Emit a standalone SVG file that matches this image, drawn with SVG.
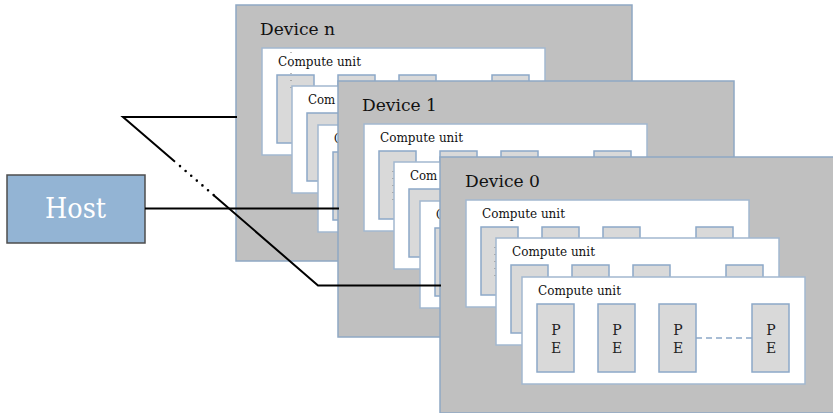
<svg xmlns="http://www.w3.org/2000/svg" width="833" height="413" viewBox="0 0 833 413">
  <style>
    text { font-family: 'DejaVu Serif', 'Liberation Serif', serif; }
    .dev { fill: #c0c0c0; stroke: #8fa8c4; stroke-width: 1.5; }
    .cu { fill: #ffffff; stroke: #a2b8d0; stroke-width: 1.5; }
    .pe { fill: #d9d9d9; stroke: #8ca8c8; stroke-width: 1.5; }
    .devlabel { font-size: 16.5px; fill: #111; }
    .culabel { font-size: 13px; fill: #111; }
    .pelabel { font-size: 14px; fill: #222; text-anchor: middle; }
    .seam { stroke: #7a7a7a; stroke-width: 1; stroke-dasharray: 1 6; fill: none; }
    .peline { stroke: #8ca8c8; stroke-width: 1.3; stroke-dasharray: 6 4; fill: none; }
    .wire { stroke: #000; stroke-width: 2; fill: none; }
    .dots { stroke: #000; stroke-width: 2.6; stroke-linecap: round; stroke-dasharray: 0 7.4; fill: none; }
    .host { fill: #93b4d4; stroke: #4d4d4d; stroke-width: 1.5; }
    .hostlabel { font-size: 27px; fill: #ffffff; }
  </style>

  <!-- Host -->
  <g id="host">
    <rect class="host" x="7" y="175" width="138" height="68"/>
    <text class="hostlabel" x="45" y="218" textLength="61" lengthAdjust="spacingAndGlyphs">Host</text>
  </g>

  <!-- Device n (back) -->
  <g id="device-n" transform="translate(236,5)">
    <rect class="dev" x="0" y="0" width="396" height="256"/>
    <text class="devlabel" x="24" y="30" textLength="75" lengthAdjust="spacingAndGlyphs">Device n</text>
    <g transform="translate(26,43)">
      <rect class="cu" width="283" height="107"/>
      <text class="culabel" x="16" y="18" textLength="83" lengthAdjust="spacingAndGlyphs">Compute unit</text>
      <rect class="pe" x="15" y="27" width="37" height="68"/>
      <rect class="pe" x="76" y="27" width="37" height="68"/>
      <rect class="pe" x="137" y="27" width="37" height="68"/>
      <rect class="pe" x="230" y="27" width="37" height="68"/>
    </g>
    <path class="seam" d="M55,47 V86"/>
    <g transform="translate(56,81)">
      <rect class="cu" width="283" height="107"/>
      <text class="culabel" x="16" y="18" textLength="27.3" lengthAdjust="spacingAndGlyphs">Com</text>
      <rect class="pe" x="15" y="27" width="37" height="68"/>
      <rect class="pe" x="76" y="27" width="37" height="68"/>
    </g>
    <g transform="translate(82,120)">
      <rect class="cu" width="283" height="107"/>
      <text class="culabel" x="16" y="18" textLength="8.5" lengthAdjust="spacingAndGlyphs">C</text>
      <rect class="pe" x="15" y="27" width="37" height="68"/>
    </g>
  </g>

  <!-- Device 1 (middle) -->
  <g id="device-1" transform="translate(338,81)">
    <rect class="dev" x="0" y="0" width="396" height="256"/>
    <text class="devlabel" x="24" y="30" textLength="75" lengthAdjust="spacingAndGlyphs">Device 1</text>
    <g transform="translate(26,43)">
      <rect class="cu" width="283" height="107"/>
      <text class="culabel" x="16" y="18" textLength="83" lengthAdjust="spacingAndGlyphs">Compute unit</text>
      <rect class="pe" x="15" y="27" width="37" height="68"/>
      <rect class="pe" x="76" y="27" width="37" height="68"/>
      <rect class="pe" x="137" y="27" width="37" height="68"/>
      <rect class="pe" x="230" y="27" width="37" height="68"/>
    </g>
    <path class="seam" d="M55,90 V120"/>
    <g transform="translate(56,81)">
      <rect class="cu" width="283" height="107"/>
      <text class="culabel" x="16" y="18" textLength="27.3" lengthAdjust="spacingAndGlyphs">Com</text>
      <rect class="pe" x="15" y="27" width="37" height="68"/>
      <rect class="pe" x="76" y="27" width="37" height="68"/>
    </g>
    <g transform="translate(82,120)">
      <rect class="cu" width="283" height="107"/>
      <text class="culabel" x="16" y="18" textLength="8.5" lengthAdjust="spacingAndGlyphs">C</text>
      <rect class="pe" x="15" y="27" width="37" height="68"/>
    </g>
  </g>

  <!-- Device 0 (front) -->
  <g id="device-0" transform="translate(440,157)">
    <rect class="dev" x="0" y="0" width="396" height="256"/>
    <text class="devlabel" x="25" y="30" textLength="75" lengthAdjust="spacingAndGlyphs">Device 0</text>
    <g transform="translate(26,43)">
      <rect class="cu" width="283" height="107"/>
      <text class="culabel" x="16" y="18" textLength="83" lengthAdjust="spacingAndGlyphs">Compute unit</text>
      <rect class="pe" x="15" y="27" width="37" height="68"/>
      <rect class="pe" x="76" y="27" width="37" height="68"/>
      <rect class="pe" x="137" y="27" width="37" height="68"/>
      <rect class="pe" x="230" y="27" width="37" height="68"/>
    </g>
    <path class="seam" d="M55,90 V120"/>
    <g transform="translate(56,81)">
      <rect class="cu" width="283" height="107"/>
      <text class="culabel" x="16" y="18" textLength="83" lengthAdjust="spacingAndGlyphs">Compute unit</text>
      <rect class="pe" x="15" y="27" width="37" height="68"/>
      <rect class="pe" x="76" y="27" width="37" height="68"/>
      <rect class="pe" x="137" y="27" width="37" height="68"/>
      <rect class="pe" x="230" y="27" width="37" height="68"/>
    </g>
    <g transform="translate(82,120)">
      <rect class="cu" width="283" height="107"/>
      <text class="culabel" x="16" y="18" textLength="83" lengthAdjust="spacingAndGlyphs">Compute unit</text>
      <path class="peline" d="M174,61 H230"/>
      <rect class="pe" x="15" y="27" width="37" height="68"/>
      <rect class="pe" x="76" y="27" width="37" height="68"/>
      <rect class="pe" x="137" y="27" width="37" height="68"/>
      <rect class="pe" x="230" y="27" width="37" height="68"/>
      <text class="pelabel" x="34" y="58">P</text>
      <text class="pelabel" x="34" y="76">E</text>
      <text class="pelabel" x="95" y="58">P</text>
      <text class="pelabel" x="95" y="76">E</text>
      <text class="pelabel" x="156" y="58">P</text>
      <text class="pelabel" x="156" y="76">E</text>
      <text class="pelabel" x="249" y="58">P</text>
      <text class="pelabel" x="249" y="76">E</text>
    </g>
  </g>

  <!-- Host-to-device links -->
  <g id="connectors">
    <path class="wire" d="M145,208.5 H339"/>
    <path class="wire" d="M237,117 H123 L175,161.8"/>
    <path class="dots" d="M180,166.1 L214,195.4"/>
    <path class="wire" d="M214,195.4 L318,285.5 H441"/>
  </g>
</svg>
